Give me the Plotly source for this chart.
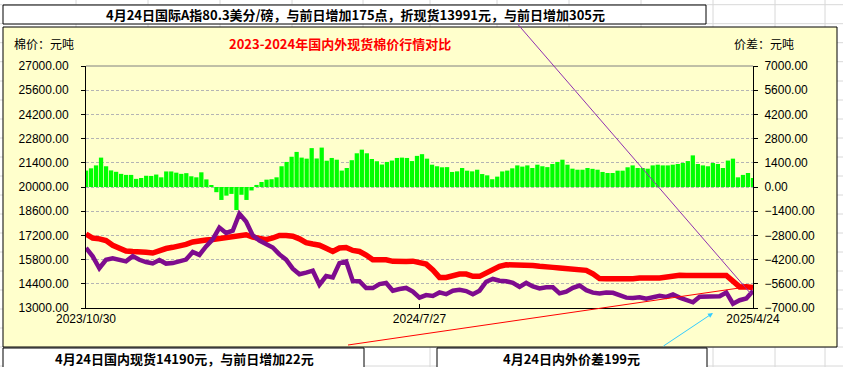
import pandas as pd
import plotly.graph_objects as go

# ---------------- data ----------------
start_date = "2023-10-30"
end_date = "2025-04-24"
x_tick_dates = ["2023-10-30", "2024-07-27", "2025-04-24"]
x_tick_labels = ["2023/10/30", "2024/7/27", "2025/4/24"]

# domestic spot price (yuan/ton), left axis
domestic = [17280, 17050, 17000, 16900, 16630, 16450, 16300, 16270, 16270, 16230,
            16180, 16320, 16440, 16510, 16560, 16680, 16820, 16900, 16930, 16960,
            17030, 17100, 17150, 17210, 17240, 17100, 17010, 16950, 17050, 17200,
            17200, 17150, 17000, 16780, 16700, 16630, 16450, 16270, 16470, 16500,
            16330, 16270, 16060, 15790, 15790, 15790, 15700, 15660, 15690, 15710,
            15600, 15540, 15200, 14770, 14770, 14880, 14960, 14960, 14830, 14830,
            15020, 15210, 15410, 15500, 15500, 15500, 15460, 15460, 15410, 15410,
            15350, 15310, 15270, 15270, 15270, 15180, 14980, 14700, 14690, 14690,
            14640, 14650, 14690, 14730, 14690, 14730, 14740, 14800, 14920, 14900,
            14880, 14870, 14840, 14880, 14880, 14880, 14880, 14500, 14220, 14230,
            14190]

# international (A index converted to spot, yuan/ton), left axis
international = [16470, 15990, 15300, 15790, 15880, 15820, 15700, 16000, 15790, 15660,
                 15580, 15780, 15570, 15600, 15730, 15800, 16240, 16070, 16560, 16970,
                 17650, 17340, 17470, 18450, 18000, 17200, 16900, 16680, 16500, 16100,
                 15800, 15280, 14950, 15050, 15160, 14350, 14850, 14770, 15600, 15700,
                 14560, 14550, 14150, 14150, 14380, 14450, 14000, 14100, 14160, 13950,
                 13600, 13750, 13700, 13900, 13800, 14000, 14050, 13980, 13800, 14000,
                 14520, 14680, 14580, 14550, 14460, 14220, 14450, 14250, 14130, 14200,
                 14200, 13850, 13950, 14170, 14300, 14030, 13890, 13840, 13900, 13880,
                 13750, 13600, 13580, 13620, 13540, 13590, 13700, 13640, 13780, 13600,
                 13450, 13330, 13650, 13650, 13620, 13680, 13900, 13250, 13450, 13550,
                 13991]

# price difference (yuan/ton), right axis
spread = [950, 1080, 1250, 1700, 1200, 960, 880, 760, 700, 700,
          470, 520, 650, 640, 720, 560, 900, 900, 830, 760,
          800, 620, 560, 850, 440, 100, -300, -750, -500, -400,
          -1330, -450, -750, -200, 120, 290, 425, 450, 560, 1200,
          1450, 1750, 2030, 1700, 1640, 2250, 1650, 2280, 1520, 1680,
          1580, 950, 1100, 1550, 1950, 2160, 1950, 1620, 1490, 1300,
          1450, 1530, 1680, 1700, 1680, 1500, 1800, 1900, 1640, 1290,
          1200, 1140, 1150, 870, 905, 1100, 945, 905, 1000, 750,
          675, 450, 600, 900, 950, 1080, 1250, 1180, 1250, 1100,
          1290, 1200, 1150, 1330, 1450, 1580, 1290, 1060, 1000, 1000,
          1100, 1050, 1000, 870, 810, 810, 945, 945, 1140, 1250,
          1100, 1100, 1060, 1250, 1290, 1250, 1250, 1290, 1330, 1390,
          1500, 1830, 1330, 1250, 1200, 1390, 1330, 1100, 1530, 1640,
          560, 700, 810, 520]

left_ticks = [13000, 14400, 15800, 17200, 18600, 20000, 21400, 22800, 24200, 25600, 27000]
right_ticks = [-7000, -5600, -4200, -2800, -1400, 0, 1400, 2800, 4200, 5600, 7000]

title_text = "2023-2024年国内外现货棉价行情对比"
left_unit = "棉价：元吨"
right_unit = "价差：元吨"
top_note = "4月24日国际A指80.3美分/磅，与前日增加175点，折现货13991元，与前日增加305元"
bottom_note1 = "4月24日国内现货14190元，与前日增加22元"
bottom_note2 = "4月24日内外价差199元"

line_dates = pd.date_range(start_date, end_date, periods=len(domestic))
bar_dates = pd.date_range(start_date, end_date, periods=len(spread))

# ---------------- figure ----------------
W, H = 843, 367
L, R, T, B = 86, 753, 66, 308


def px(x):
    return (x - L) / (R - L)


def py(y):
    return (B - y) / (B - T)


CJK = "Noto Sans CJK SC, Liberation Sans, sans-serif"
NUM = "Liberation Sans, Noto Sans CJK SC, sans-serif"

fig = go.Figure()
fig.add_trace(go.Bar(x=bar_dates, y=spread, yaxis="y2", marker=dict(color="#00FF00", line=dict(width=0)),
                     name="价差"))
fig.add_trace(go.Scatter(x=line_dates, y=domestic, mode="lines", line=dict(color="#FF0000", width=5.5),
                         name="国内"))
fig.add_trace(go.Scatter(x=line_dates, y=international, mode="lines", line=dict(color="#7E0C8E", width=4.5),
                         name="国际"))

shapes = []
# spreadsheet cell grid (background)
for gx in [76, 148, 220, 292, 363, 430, 497, 569, 641, 713, 775, 825]:
    shapes.append(dict(type="line", xref="paper", yref="paper", x0=px(gx), x1=px(gx), y0=py(0), y1=py(H),
                       line=dict(color="#D8D8D8", width=1), layer="below"))
for gy in [4.7, 23.7, 42.7, 61.7, 81, 100, 119, 138, 157, 176, 195, 214, 233, 252, 271, 290, 309, 328, 347, 366]:
    shapes.append(dict(type="line", xref="paper", yref="paper", x0=px(0), x1=px(W), y0=py(gy), y1=py(gy),
                       line=dict(color="#D8D8D8", width=1), layer="below"))
# chart area box
shapes.append(dict(type="rect", xref="paper", yref="paper", x0=px(3), x1=px(837), y0=py(347), y1=py(27),
                   fillcolor="#FFFFCC", line=dict(color="#000000", width=1), layer="below"))
# note boxes
for (a, b, c, d) in [(3, 706, 5, 24), (3, 364, 348, 372), (437, 707, 348, 372)]:
    shapes.append(dict(type="rect", xref="paper", yref="paper", x0=px(a), x1=px(b), y0=py(d), y1=py(c),
                       fillcolor="#FFFFFF", line=dict(color="#000000", width=1), layer="above"))
# top border of plot area
shapes.append(dict(type="line", xref="paper", yref="paper", x0=0, x1=1, y0=1, y1=1,
                   line=dict(color="#808080", width=1)))
# pointer lines
shapes.append(dict(type="line", xref="paper", yref="paper", x0=px(518), y0=py(24.5), x1=px(751), y1=py(294),
                   line=dict(color="#9030B0", width=1)))
shapes.append(dict(type="line", xref="paper", yref="paper", x0=px(348), y0=py(345), x1=px(753), y1=py(286),
                   line=dict(color="#FF0000", width=1)))

annotations = [
    dict(text=title_text, x=px(340), y=py(43), xref="paper", yref="paper", showarrow=False,
         xanchor="center", yanchor="middle", font=dict(family=CJK, size=13, color="#FF0000", weight="bold")),
    dict(text=left_unit, x=px(12), y=py(43), xref="paper", yref="paper", showarrow=False,
         xanchor="left", yanchor="middle", font=dict(family=CJK, size=12, color="#000000")),
    dict(text=right_unit, x=px(732), y=py(43), xref="paper", yref="paper", showarrow=False,
         xanchor="left", yanchor="middle", font=dict(family=CJK, size=12, color="#000000")),
    dict(text=top_note, x=px(355), y=py(15), xref="paper", yref="paper", showarrow=False,
         xanchor="center", yanchor="middle", font=dict(family=CJK, size=13, color="#000000", weight="bold")),
    dict(text=bottom_note1, x=px(184), y=py(358), xref="paper", yref="paper", showarrow=False,
         xanchor="center", yanchor="middle", font=dict(family=CJK, size=13, color="#000000", weight="bold")),
    dict(text=bottom_note2, x=px(571), y=py(358), xref="paper", yref="paper", showarrow=False,
         xanchor="center", yanchor="middle", font=dict(family=CJK, size=13, color="#000000", weight="bold")),
    dict(text="", x=px(713), y=py(313), xref="paper", yref="paper", showarrow=True,
         ax=-51, ay=34, arrowhead=2, arrowsize=1, arrowwidth=1, arrowcolor="#33CCFF"),
]

fig.update_layout(
    width=W, height=H,
    margin=dict(l=L, r=W - R, t=T, b=H - B, pad=0),
    paper_bgcolor="#FFFFFF",
    plot_bgcolor="#FFFFCC",
    showlegend=False,
    bargap=0.15,
    shapes=shapes,
    annotations=annotations,
    xaxis=dict(type="date", range=[start_date, end_date], tickvals=x_tick_dates, ticktext=x_tick_labels,
               showgrid=False, zeroline=False, showline=True, linecolor="#000000", linewidth=1,
               ticks="inside", ticklen=4, tickcolor="#000000",
               tickfont=dict(family=NUM, size=12, color="#000000")),
    yaxis=dict(range=[13000, 27000], tickvals=left_ticks, tickformat=".2f",
               showgrid=True, gridcolor="#B4B4B4", griddash="3px,2px", gridwidth=1,
               zeroline=False, showline=True, linecolor="#000000", linewidth=1,
               ticks="outside", ticklen=4, tickcolor="#000000", ticklabelstandoff=10,
               tickfont=dict(family=NUM, size=12, color="#000000")),
    yaxis2=dict(range=[-7000, 7000], tickvals=right_ticks, tickformat=".2f", overlaying="y", side="right",
                showgrid=False, zeroline=False, showline=True, linecolor="#000000", linewidth=1,
                ticks="outside", ticklen=4, tickcolor="#000000", ticklabelstandoff=4,
                tickfont=dict(family=NUM, size=12, color="#000000")),
)

fig.write_html("out.html", config={"displayModeBar": False},
               post_script="document.body.style.margin='0';document.body.style.overflow='hidden';")
